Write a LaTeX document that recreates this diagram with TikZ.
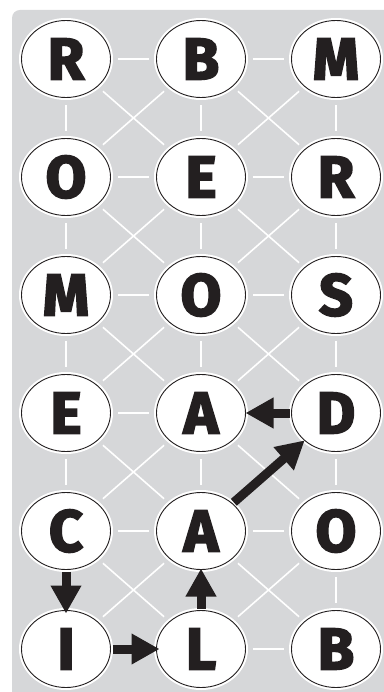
\documentclass[tikz,border=0pt]{standalone}
\usepackage{fontspec}
\setmainfont{Fira Sans}[BoldFeatures={FakeBold=3}]
\usetikzlibrary{shapes.geometric,arrows.meta,calc}
\definecolor{bggray}{RGB}{214,215,217}
\definecolor{ink}{RGB}{35,31,32}
\begin{document}
\begin{tikzpicture}[x=1pt,y=-1pt,
  letter/.style={ellipse, draw=ink, line width=0.9pt, fill=white,
    minimum width=89pt, minimum height=77pt, inner sep=0pt, outer sep=0pt,
    font=\fontsize{59}{59}\selectfont\bfseries, text=ink,
    preaction={draw=white, line width=5pt}},
  gridline/.style={draw=white, line width=1.6pt, shorten <=7.5pt, shorten >=7.5pt},
  move/.style={draw=ink, line width=9pt, -{Triangle[length=28pt,width=29pt]}}]
\useasboundingbox (0,0) rectangle (383,692);
\fill[bggray, rounded corners=8pt] (12,10) rectangle (420,730);
% letters
\foreach \r/\yy/\la/\lb/\lc in {1/59/R/B/M, 2/177/O/E/R, 3/295/M/O/S, 4/413/E/A/D, 5/531/C/A/O, 6/649/I/L/B} {
  \node[letter] (n\r1) at (66,\yy) {\la};
  \node[letter] (n\r2) at (201,\yy) {\lb};
  \node[letter] (n\r3) at (336,\yy) {\lc};
}
% horizontal grid lines
\foreach \a/\b in {n11/n12, n12/n13, n21/n22, n22/n23, n31/n32, n32/n33, n41/n42, n51/n52, n52/n53, n62/n63}
  \draw[gridline] (\a) -- (\b);
% vertical grid lines
\foreach \a/\b in {n11/n21, n21/n31, n31/n41, n41/n51, n12/n22, n22/n32, n32/n42, n42/n52, n13/n23, n23/n33, n33/n43, n43/n53, n53/n63}
  \draw[gridline] (\a) -- (\b);
% diagonal grid lines
\foreach \a/\b in {n11/n22, n12/n21, n12/n23, n13/n22,
                   n21/n32, n22/n31, n22/n33, n23/n32,
                   n31/n42, n32/n41, n32/n43, n33/n42,
                   n41/n52, n42/n51, n42/n53,
                   n51/n62, n52/n61, n52/n63, n53/n62}
  \draw[gridline] (\a) -- (\b);
% path arrows
\draw[move, shorten <=2pt, shorten >=-3pt] (n51) -- (n61);
\draw[move, shorten <=2pt, shorten >=-3pt] (n61) -- (n62);
\draw[move, shorten <=2pt, shorten >=-1pt] (n62) -- (n52);
\draw[move, shorten <=2pt, shorten >=0pt] (n52) -- (n43);
\draw[move, shorten <=2pt, shorten >=0pt] (n43) -- (n42);
\end{tikzpicture}
\end{document}
